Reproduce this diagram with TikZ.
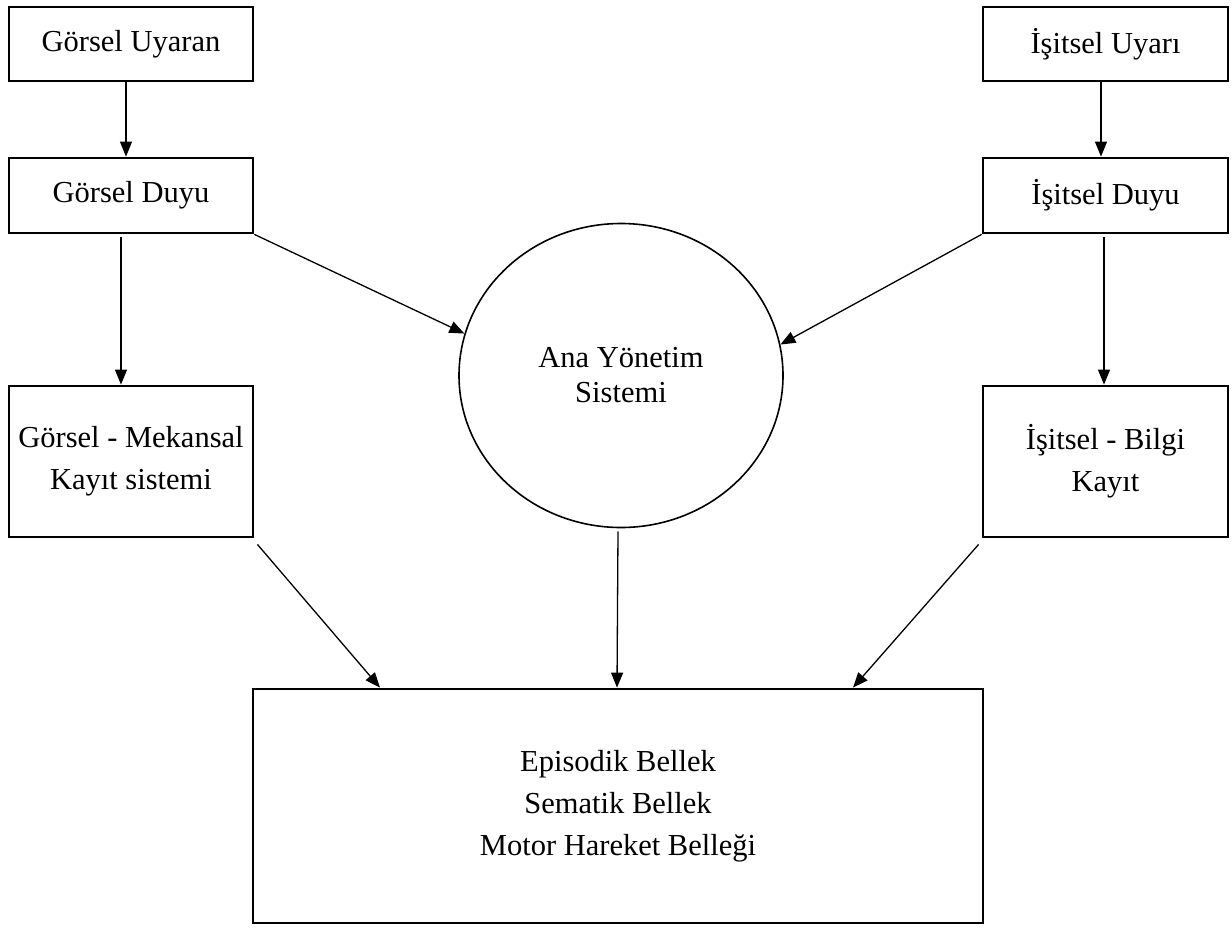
\documentclass[tikz,border=0pt]{standalone}
\usepackage{fontspec}
\setmainfont{Liberation Serif}
\usetikzlibrary{arrows.meta,shapes.geometric}
\begin{document}
\begin{tikzpicture}[x=1pt,y=-1pt,
  box/.style={draw,line width=2.8pt,rectangle,minimum width=244pt,align=center,inner sep=0pt,font=\fontsize{30.5}{42}\selectfont},
  hub/.style={draw,line width=1.6pt,ellipse,minimum width=324pt,minimum height=304pt,inner sep=0pt,align=center,font=\fontsize{30.5}{35}\selectfont},
  arr/.style={line width=1.3pt,-{Triangle[length=15pt,width=12pt]}}]
\useasboundingbox (0,0) rectangle (1232,927);
% left column
\node[box,minimum height=74pt] (gu) at (131,44) {Görsel Uyaran};
\node[box,minimum height=75pt] (gd) at (131,195.5) {Görsel Duyu};
\node[box,minimum height=151pt] (gm) at (131,461.5) {Görsel - Mekansal\\Kayıt sistemi};
% right column
\node[box,minimum width=245pt,minimum height=74pt] (iu) at (1105.5,44) {İşitsel Uyarı};
\node[box,minimum width=245pt,minimum height=75pt] (id) at (1105.5,195.5) {İşitsel Duyu};
\node[box,minimum width=245pt,minimum height=151pt] (ib) at (1105.5,461.5) {İşitsel - Bilgi\\Kayıt};
% central hub
\node[hub] (circ) at (621,375.5) {Ana Yönetim\\Sistemi};
% bottom box
\node[box,minimum width=730pt,minimum height=234pt] (bot) at (618,806) {Episodik Bellek\\Sematik Bellek\\Motor Hareket Belleği};
% connectors
\draw[arr] ([xshift=-5pt]gu.south) -- ([xshift=-5pt]gd.north);
\draw[arr] ([xshift=-4.5pt]iu.south) -- ([xshift=-4.5pt]id.north);
\draw[arr] ([shift={(-10,3)}]gd.south) -- ([xshift=-10pt]gm.north);
\draw[arr] ([shift={(-1.5,3)}]id.south) -- ([xshift=-1.5pt]ib.north);
\draw[arr] (gd.south east) -- (circ.165);
\draw[arr] (id.south west) -- (circ.11);
\draw[arr] ([shift={(-3,3)}]circ.south) -- ([xshift=-1pt]bot.north);
\draw[arr] ([shift={(3,6)}]gm.south east) -- ([xshift=-238pt]bot.north);
\draw[arr] ([shift={(-3,6)}]ib.south west) -- ([xshift=235pt]bot.north);
\end{tikzpicture}
\end{document}
